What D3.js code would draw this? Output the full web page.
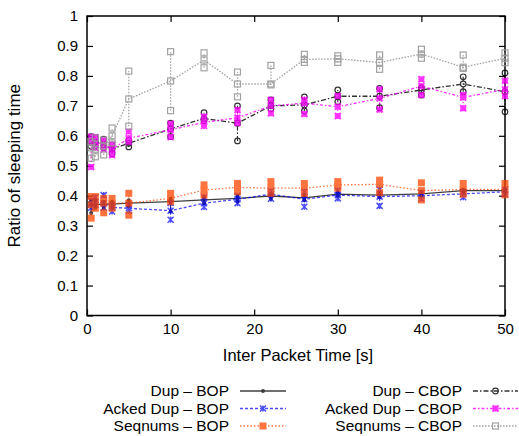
<!DOCTYPE html>
<html><head><meta charset="utf-8">
<script src="https://cdn.jsdelivr.net/npm/d3@7"></script>
<style>body{margin:0;background:#fff}text{font-family:"Liberation Sans",Arial,sans-serif;fill:#000}</style>
</head><body><svg id="c" width="519" height="436"></svg>
<script>
const xValues = [0.5,1,2,3,5,10,14,18,22,26,30,35,40,45,50];
const yTicks = [0,0.1,0.2,0.3,0.4,0.5,0.6,0.7,0.8,0.9,1];
const xTicks = [0,10,20,30,40,50];

const dupBopMean = [0.37,0.37,0.372,0.372,0.375,0.38,0.386,0.391,0.399,0.393,0.405,0.402,0.406,0.417,0.417];
const dupBopLow  = [0.342,0.36,0.36,0.36,0.365,0.347,0.375,0.38,0.39,0.385,0.40,0.395,0.40,0.41,0.41];
const dupBopHigh = [0.385,0.385,0.38,0.38,0.385,0.39,0.395,0.40,0.405,0.40,0.41,0.41,0.412,0.42,0.42];

const ackBopMean = [0.37,0.38,0.375,0.361,0.358,0.35,0.375,0.388,0.405,0.388,0.402,0.397,0.40,0.406,0.413];
const ackBopLow  = [0.36,0.37,0.36,0.347,0.35,0.32,0.362,0.375,0.39,0.363,0.391,0.366,0.39,0.395,0.405];
const ackBopHigh = [0.385,0.395,0.402,0.37,0.37,0.376,0.395,0.40,0.415,0.413,0.417,0.421,0.41,0.413,0.42];

const seqBopMean = [0.37,0.38,0.375,0.375,0.375,0.391,0.419,0.428,0.425,0.425,0.436,0.438,0.417,0.421,0.421];
const seqBopLow  = [0.325,0.358,0.343,0.358,0.335,0.38,0.402,0.413,0.408,0.408,0.425,0.41,0.386,0.405,0.403];
const seqBopHigh = [0.397,0.397,0.391,0.391,0.408,0.408,0.436,0.441,0.447,0.441,0.447,0.452,0.443,0.441,0.441];

const dupCbopMean = [0.58,0.58,0.57,0.556,0.575,0.623,0.658,0.642,0.70,0.703,0.732,0.732,0.753,0.773,0.747];
const dupCbopLow  = [0.565,0.565,0.56,0.54,0.563,0.597,0.65,0.583,0.69,0.683,0.714,0.694,0.736,0.747,0.68];
const dupCbopHigh = [0.597,0.595,0.589,0.57,0.585,0.642,0.677,0.70,0.72,0.73,0.753,0.758,0.76,0.797,0.81];

const ackCbopMean = [0.58,0.58,0.57,0.555,0.592,0.62,0.645,0.66,0.70,0.709,0.697,0.725,0.766,0.728,0.755];
const ackCbopLow  = [0.496,0.56,0.555,0.536,0.58,0.596,0.633,0.643,0.675,0.673,0.666,0.688,0.736,0.692,0.733];
const ackCbopHigh = [0.597,0.595,0.585,0.57,0.614,0.64,0.664,0.686,0.72,0.72,0.733,0.755,0.789,0.736,0.784];

const seqCbopMean = [0.56,0.555,0.565,0.60,0.723,0.783,0.853,0.773,0.773,0.855,0.857,0.845,0.873,0.829,0.859];
const seqCbopLow  = [0.525,0.53,0.536,0.576,0.632,0.684,0.827,0.73,0.77,0.845,0.845,0.822,0.859,0.825,0.844];
const seqCbopHigh = [0.58,0.593,0.586,0.626,0.816,0.881,0.877,0.813,0.835,0.872,0.867,0.87,0.889,0.87,0.877];

const seriesNames = ["Dup \u2013 BOP","Acked Dup \u2013 BOP","Seqnums \u2013 BOP","Dup \u2013 CBOP","Acked Dup \u2013 CBOP","Seqnums \u2013 CBOP"];

const series = [
  {name:seriesNames[0], mean:dupBopMean, low:dupBopLow, high:dupBopHigh, color:"#000000", dash:null, marker:"dot", op:0.75},
  {name:seriesNames[1], mean:ackBopMean, low:ackBopLow, high:ackBopHigh, color:"#0000ff", dash:"3,2", marker:"star", op:0.7},
  {name:seriesNames[2], mean:seqBopMean, low:seqBopLow, high:seqBopHigh, color:"#ff4500", dash:"1.5,2", marker:"fsquare", op:0.75},
  {name:seriesNames[3], mean:dupCbopMean, low:dupCbopLow, high:dupCbopHigh, color:"#000000", dash:"5,2,1.5,2", marker:"ocircle", op:0.8},
  {name:seriesNames[4], mean:ackCbopMean, low:ackCbopLow, high:ackCbopHigh, color:"#ff00ff", dash:"3,2,1.5,2", marker:"mstar", op:0.8},
  {name:seriesNames[5], mean:seqCbopMean, low:seqCbopLow, high:seqCbopHigh, color:"#999999", dash:"1.5,1.5", marker:"osquare", op:0.9}
];

const svg = d3.select("#c");
const L=87, R=505, T=16, B=315.5;
const x = d3.scaleLinear().domain([0,50]).range([L,R]);
const y = d3.scaleLinear().domain([0,1]).range([B,T]);

svg.append("rect").attr("x",L).attr("y",T).attr("width",R-L).attr("height",B-T)
  .attr("fill","none").attr("stroke","#000").attr("stroke-width",1.5);

const fmt = d => d===0||d===1 ? String(d) : d3.format(".1f")(d);
const gL = svg.append("g").attr("transform",`translate(${L},0)`)
  .call(d3.axisLeft(y).tickValues(yTicks).tickFormat(fmt).tickSize(-6).tickPadding(9));
const gR = svg.append("g").attr("transform",`translate(${R},0)`)
  .call(d3.axisRight(y).tickValues(yTicks).tickFormat("").tickSize(-6));
const gB = svg.append("g").attr("transform",`translate(0,${B})`)
  .call(d3.axisBottom(x).tickValues(xTicks).tickFormat(d3.format("d")).tickSize(-6).tickPadding(8));
const gT = svg.append("g").attr("transform",`translate(0,${T})`)
  .call(d3.axisTop(x).tickValues(xTicks).tickFormat("").tickSize(-6));
[gL,gR,gB,gT].forEach(g=>{g.select(".domain").remove();g.selectAll("line").attr("stroke","#000").attr("stroke-width",1.2);
  g.selectAll("text").attr("font-size",15).attr("font-family","Liberation Sans, Arial, sans-serif");});

svg.append("text").attr("x",(L+R)/2+2).attr("y",361).attr("text-anchor","middle").attr("font-size",16.5).text("Inter Packet Time [s]");
svg.append("text").attr("transform",`translate(20,${(T+B)/2}) rotate(-90)`).attr("text-anchor","middle").attr("font-size",17).text("Ratio of sleeping time");

function drawMarker(g, type, cx, cy, color){
  if(type==="dot") g.append("circle").attr("cx",cx).attr("cy",cy).attr("r",2).attr("fill",color);
  else if(type==="star"){
    const s=3;
    g.append("path").attr("d",`M${cx-s},${cy-s}L${cx+s},${cy+s}M${cx-s},${cy+s}L${cx+s},${cy-s}M${cx},${cy-s}L${cx},${cy+s}`)
      .attr("stroke",color).attr("stroke-width",1.5).attr("fill","none");
  } else if(type==="mstar"){
    const s=3;
    g.append("path").attr("d",`M${cx-s},${cy-s}L${cx+s},${cy+s}M${cx-s},${cy+s}L${cx+s},${cy-s}M${cx},${cy-s}L${cx},${cy+s}M${cx-s},${cy}L${cx+s},${cy}`)
      .attr("stroke",color).attr("stroke-width",2).attr("fill","none");
  } else if(type==="fsquare") g.append("rect").attr("x",cx-3.5).attr("y",cy-3.5).attr("width",7).attr("height",7).attr("fill",color);
  else if(type==="ocircle") g.append("circle").attr("cx",cx).attr("cy",cy).attr("r",2.8).attr("fill","none").attr("stroke",color).attr("stroke-width",1.2);
  else if(type==="osquare") g.append("rect").attr("x",cx-3).attr("y",cy-3).attr("width",6).attr("height",6).attr("fill","none").attr("stroke",color).attr("stroke-width",1.2);
}

const line = d3.line().x(d=>x(d[0])).y(d=>y(d[1]));
series.forEach(s=>{
  const g = svg.append("g").attr("opacity",s.op);
  const pts = xValues.map((xv,i)=>[xv,s.mean[i]]);
  xValues.forEach((xv,i)=>{
    g.append("line").attr("x1",x(xv)).attr("x2",x(xv)).attr("y1",y(s.low[i])).attr("y2",y(s.high[i]))
      .attr("stroke",s.color).attr("stroke-width",1.2).attr("stroke-dasharray",s.dash);
  });
  g.append("path").attr("d",line(pts)).attr("fill","none").attr("stroke",s.color)
    .attr("stroke-width",1.3).attr("stroke-dasharray",s.dash);
  xValues.forEach((xv,i)=>{
    drawMarker(g,s.marker,x(xv),y(s.mean[i]),s.color);
    drawMarker(g,s.marker,x(xv),y(s.low[i]),s.color);
    drawMarker(g,s.marker,x(xv),y(s.high[i]),s.color);
  });
});

const legRows=[391,408.5,426];
series.forEach((s,i)=>{
  const col = i<3?0:1, row=i%3;
  const tx = col===0?229:462, lx0 = col===0?240:473, lx1 = col===0?286:518;
  const ly = legRows[row];
  svg.append("text").attr("x",tx).attr("y",ly).attr("dy","0.35em").attr("text-anchor","end").attr("font-size",15.5).text(s.name);
  const g = svg.append("g").attr("opacity",s.op);
  g.append("line").attr("x1",lx0).attr("x2",lx1).attr("y1",ly).attr("y2",ly).attr("stroke",s.color)
    .attr("stroke-width",1.3).attr("stroke-dasharray",s.dash);
  drawMarker(g,s.marker,(lx0+lx1)/2,ly,s.color);
});
</script></body></html>
